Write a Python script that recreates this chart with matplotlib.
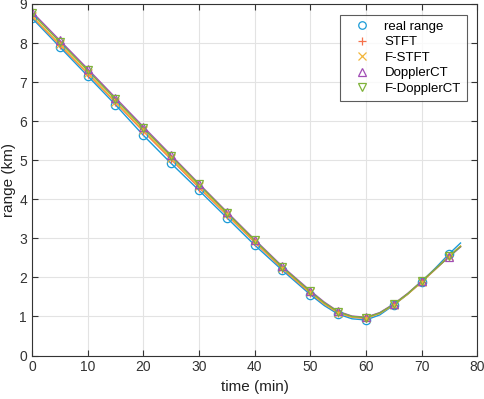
import numpy as np
import matplotlib.pyplot as plt

plt.rcParams['font.family'] = ['Liberation Sans', 'DejaVu Sans']

# Marker times (min)
t_mark = [0, 5, 10, 15, 20, 25, 30, 35, 40, 45, 50, 55, 60, 65, 70, 75]

# Range values at marker times (km)
real_range = [8.64, 7.90, 7.16, 6.42, 5.64, 4.92, 4.23, 3.53, 2.83, 2.18, 1.56, 1.06, 0.91, 1.29, 1.89, 2.61]
stft = [8.68, 7.95, 7.22, 6.48, 5.74, 5.02, 4.30, 3.60, 2.90, 2.22, 1.60, 1.09, 0.95, 1.30, 1.88, 2.55]
f_stft = [8.70, 7.97, 7.24, 6.50, 5.77, 5.05, 4.33, 3.62, 2.92, 2.24, 1.62, 1.10, 0.96, 1.30, 1.88, 2.55]
doppler_ct = [8.80, 8.07, 7.34, 6.60, 5.86, 5.13, 4.40, 3.68, 2.97, 2.28, 1.66, 1.13, 0.98, 1.32, 1.90, 2.53]
f_doppler_ct = [8.76, 8.03, 7.30, 6.56, 5.82, 5.10, 4.38, 3.66, 2.95, 2.26, 1.64, 1.12, 0.97, 1.31, 1.90, 2.54]

# Continuous track readings (extra points read near the turn and at the end)
t_line = [0, 5, 10, 15, 20, 25, 30, 35, 40, 45, 50, 52.5, 55, 57.5, 60, 62.5, 65, 67.5, 70, 72.5, 75, 77]
real_line = [8.64, 7.90, 7.16, 6.42, 5.64, 4.92, 4.23, 3.53, 2.83, 2.18, 1.56, 1.28, 1.06, 0.94, 0.91, 1.04, 1.29, 1.57, 1.89, 2.24, 2.61, 2.88]
stft_line = [8.68, 7.95, 7.22, 6.48, 5.74, 5.02, 4.30, 3.60, 2.90, 2.22, 1.60, 1.32, 1.09, 0.98, 0.95, 1.08, 1.30, 1.57, 1.88, 2.21, 2.55, 2.80]
f_stft_line = [8.70, 7.97, 7.24, 6.50, 5.77, 5.05, 4.33, 3.62, 2.92, 2.24, 1.62, 1.33, 1.10, 0.99, 0.96, 1.08, 1.30, 1.57, 1.88, 2.21, 2.55, 2.80]
dct_line = [8.80, 8.07, 7.34, 6.60, 5.86, 5.13, 4.40, 3.68, 2.97, 2.28, 1.66, 1.37, 1.13, 1.01, 0.98, 1.10, 1.32, 1.59, 1.90, 2.22, 2.53, 2.78]
fdct_line = [8.76, 8.03, 7.30, 6.56, 5.82, 5.10, 4.38, 3.66, 2.95, 2.26, 1.64, 1.35, 1.12, 1.00, 0.97, 1.09, 1.31, 1.58, 1.90, 2.22, 2.54, 2.79]

labels = ["real range", "STFT", "F-STFT", "DopplerCT", "F-DopplerCT"]
colors = ["#1a9bd7", "#f5704a", "#f2b53a", "#a14db5", "#7fb23a"]
markers = ["o", "+", "x", "^", "v"]
marks = [real_range, stft, f_stft, doppler_ct, f_doppler_ct]
lines = [real_line, stft_line, f_stft_line, dct_line, fdct_line]

fig = plt.figure(figsize=(4.84, 3.99), dpi=100)
ax = fig.add_axes([0.066, 0.109, 0.92, 0.881])

for y, c in zip(lines, colors):
    ax.plot(t_line, y, color=c, linewidth=1.0)

for y, c, m, lab in zip(marks, colors, markers, labels):
    ax.plot(t_mark, y, linestyle="none", marker=m, markersize=6,
            markerfacecolor="none", markeredgecolor=c, markeredgewidth=0.9,
            label=lab)

ax.set_xlim(0, 80)
ax.set_ylim(0, 9)
ax.set_xticks(range(0, 81, 10))
ax.set_yticks(range(0, 10))
ax.grid(True, color="#e3e3e3", linewidth=0.8)
ax.set_axisbelow(True)

for s in ax.spines.values():
    s.set_color("#333333")
    s.set_linewidth(0.8)
ax.tick_params(direction="in", top=True, right=True, labelsize=10,
               colors="#333333", length=4)
ax.set_xlabel("time (min)", fontsize=11, color="#222222")
ax.set_ylabel("range (km)", fontsize=11, color="#222222", labelpad=2)

leg = ax.legend(loc="upper right", fontsize=9.5, frameon=True, fancybox=False,
                edgecolor="#333333", borderaxespad=0.8, handletextpad=0.5,
                labelspacing=0.25, handlelength=2.4, markerscale=0.9,
                borderpad=0.45)
leg.get_frame().set_linewidth(0.8)

fig.savefig("out.png", dpi=100)
